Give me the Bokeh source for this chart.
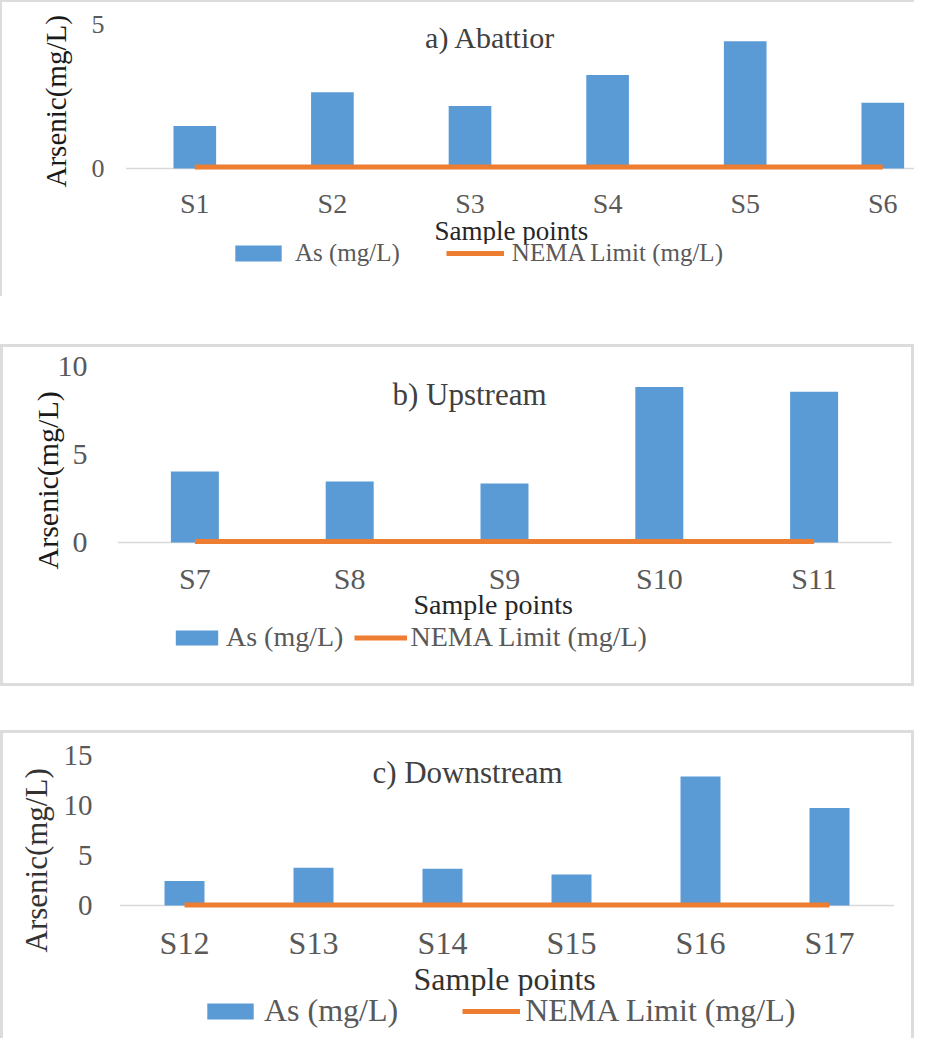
from bokeh.plotting import figure
from bokeh.models import Label, Legend, LegendItem, FixedTicker, Range1d, Spacer, Title
from bokeh.layouts import column
from bokeh.embed import file_html
from bokeh.resources import INLINE

# ---------------- data ----------------
cats_a = ["S1", "S2", "S3", "S4", "S5", "S6"]
as_a = [1.48, 2.65, 2.17, 3.25, 4.42, 2.28]
cats_b = ["S7", "S8", "S9", "S10", "S11"]
as_b = [4.03, 3.46, 3.35, 8.84, 8.56]
cats_c = ["S12", "S13", "S14", "S15", "S16", "S17"]
as_c = [2.46, 3.77, 3.67, 3.10, 12.9, 9.76]
nema_limit = 0.05
yticks_a = [0, 5]
yticks_b = [0, 5, 10]
yticks_c = [0, 5, 10, 15]
titles = ["a) Abattior", "b) Upstream", "c) Downstream"]
series_names = ["As (mg/L)", "NEMA Limit (mg/L)"]
x_title = "Sample points"
y_title = "Arsenic(mg/L)"

BLUE = "#5B9BD5"
ORANGE = "#ED7D31"
FONT = "Liberation Serif"
LEG_FONT = "'Liberation Serif', serif"
EDGE = "#dcdcdc"
W = 914
ML = 117          # common frame left (plots in a column share frame edges)
BAR_W = 0.31
PAD = 3           # px of frame kept below the zero line so the limit line is not clipped


def main_fig(cats, vals, yticks, title, cfg):
    n = len(cats)
    xs = [i + 0.5 for i in range(n)]
    ymax = yticks[-1]
    fh = cfg["h"] - cfg["mt"] - cfg["mb"]
    ypad = ymax * PAD / (fh - PAD)
    p = figure(width=W, height=cfg["h"],
               x_range=Range1d(*cfg["xr"]), y_range=Range1d(-ypad, ymax),
               min_border_left=ML, min_border_right=0,
               min_border_top=cfg["mt"], min_border_bottom=cfg["mb"],
               output_backend="svg", toolbar_location=None,
               styles={"background-color": "white", "box-shadow": cfg["shadow"]})
    p.outline_line_color = None
    p.grid.visible = False
    p.background_fill_color = None
    p.border_fill_color = None

    # category axis line at zero, spanning the categories
    p.segment(x0=[0], x1=[n], y0=[0], y1=[0], line_color="#d9d9d9", line_width=1.5)
    p.vbar(x=xs, top=vals, width=BAR_W, fill_color=BLUE, line_color=None)
    p.line(x=xs, y=[nema_limit] * n, line_width=5, line_color=ORANGE)

    xa = p.xaxis[0]
    xa.ticker = FixedTicker(ticks=xs)
    xa.major_label_overrides = {x: c for x, c in zip(xs, cats)}
    xa.major_tick_line_color = None
    xa.minor_tick_line_color = None
    xa.major_tick_out = 0
    xa.major_tick_in = 0
    xa.axis_line_color = None
    xa.major_label_text_font = FONT
    xa.major_label_text_font_size = cfg["xt_fs"]
    xa.major_label_text_color = "#595959"
    xa.major_label_standoff = cfg["xt_so"] - PAD

    ya = p.yaxis[0]
    ya.ticker = FixedTicker(ticks=yticks)
    ya.axis_line_color = None
    ya.major_tick_line_color = None
    ya.minor_tick_line_color = None
    ya.major_tick_out = 0
    ya.major_tick_in = 0
    ya.major_label_text_font = FONT
    ya.major_label_text_font_size = cfg["yt_fs"]
    ya.major_label_text_color = "#595959"
    ya.major_label_standoff = cfg["yt_so"]

    p.add_layout(Title(text=y_title, align="left", vertical_align="bottom",
                       offset=cfg["yl_off"] + PAD, standoff=cfg["yl_so"],
                       text_font=FONT, text_font_style="normal",
                       text_font_size=cfg["yl_fs"], text_color=cfg["yl_col"]), "left")
    p.add_layout(Title(text=x_title, align="left", vertical_align="bottom",
                       offset=cfg["xl_off"], standoff=cfg["xl_so"],
                       text_font=FONT, text_font_style="normal",
                       text_font_size=cfg["xl_fs"], text_color=cfg["xl_col"]), "below")

    p.add_layout(Label(x=cfg["t_xy"][0], y=cfg["t_xy"][1] + PAD, x_units="screen", y_units="screen",
                       text=title, text_align="center", text_baseline="middle",
                       text_font=FONT, text_font_size=cfg["t_fs"], text_color="#404040"))
    return p


def legend_fig(cats, vals, cfg):
    n = len(cats)
    xs = [i + 0.5 for i in range(n)]
    q = figure(width=W, height=cfg["lh"], x_range=Range1d(*cfg["xr"]), y_range=Range1d(0, 1),
               min_border_left=ML, min_border_right=0, min_border_top=0, min_border_bottom=0,
               x_axis_location=None, y_axis_location=None,
               output_backend="svg", toolbar_location=None,
               styles={"background-color": "white", "box-shadow": cfg["lshadow"]})
    q.outline_line_color = None
    q.background_fill_color = None
    q.border_fill_color = None
    q.grid.visible = False
    # renderers that only feed the legend keys (hidden in this strip)
    r_bar = q.vbar(x=xs, top=vals, width=BAR_W, fill_color=BLUE, line_color=None, visible=False)
    r_line = q.line(x=xs, y=[nema_limit] * n, line_width=5, line_color=ORANGE, visible=False)
    legend = Legend(items=[LegendItem(label=series_names[0], renderers=[r_bar]),
                           LegendItem(label=series_names[1], renderers=[r_line])],
                    orientation="horizontal", location=cfg["leg_loc"],
                    glyph_width=cfg["gw"], glyph_height=cfg["gh"],
                    label_standoff=cfg["lso"], spacing=cfg["lsp"],
                    padding=0, margin=0, border_line_color=None,
                    background_fill_alpha=0, inactive_fill_alpha=0,
                    label_text_font=LEG_FONT, label_text_font_size=cfg["lg_fs"],
                    label_text_color="#595959")
    q.add_layout(legend)
    return q


cfg_a = dict(h=244, xr=(-8.5 / 137.6, -8.5 / 137.6 + 797 / 137.6), mt=24, mb=73,
             shadow=f"inset 2px 2px 0 0 {EDGE}", lshadow=f"inset 2px 0 0 0 {EDGE}", lh=52,
             xt_fs="28px", xt_so=19, xl_fs="27px", xl_col="#262626", xl_off=317, xl_so=-16,
             yt_fs="26px", yt_so=13, yl_fs="29px", yl_col="#1a1a1a", yl_off=-19, yl_so=34,
             leg_loc=(112, 29), gw=58, gh=20, lso=8, lsp=46, lg_fs="25px",
             t_xy=(373, 131), t_fs="30px")
cfg_b = dict(h=278, xr=(0, 797 / 154.8), mt=22, mb=77,
             shadow=f"inset 3px 3px 0 0 {EDGE}, inset -3px 0 0 0 {EDGE}",
             lshadow=f"inset 3px -3px 0 0 {EDGE}, inset -3px 0 0 0 {EDGE}", lh=64,
             xt_fs="30px", xt_so=19, xl_fs="28px", xl_col="#262626", xl_off=296, xl_so=-22,
             yt_fs="30px", yt_so=30, yl_fs="30px", yl_col="#1a1a1a", yl_off=-27, yl_so=-18,
             leg_loc=(53, 33), gw=53, gh=19, lso=3, lsp=11, lg_fs="28px",
             t_xy=(352, 148), t_fs="31px")
cfg_c = dict(h=266, xr=(-2.5 / 129, -2.5 / 129 + 797 / 129), mt=25, mb=88,
             shadow=f"inset 3px 3px 0 0 {EDGE}, inset -3px 0 0 0 {EDGE}",
             lshadow=f"inset 3px 0 0 0 {EDGE}, inset -3px 0 0 0 {EDGE}", lh=42,
             xt_fs="32px", xt_so=19, xl_fs="32px", xl_col="#333333", xl_off=296, xl_so=-10,
             yt_fs="29px", yt_so=25, yl_fs="31px", yl_col="#333333", yl_off=-47, yl_so=14,
             leg_loc=(84, 9), gw=58, gh=20, lso=5, lsp=64, lg_fs="32px",
             t_xy=(350, 133), t_fs="31px")

pa = main_fig(cats_a, as_a, yticks_a, titles[0], cfg_a)
pb = main_fig(cats_b, as_b, yticks_b, titles[1], cfg_b)
pc = main_fig(cats_c, as_c, yticks_c, titles[2], cfg_c)
la = legend_fig(cats_a, as_a, cfg_a)
lb = legend_fig(cats_b, as_b, cfg_b)
lc = legend_fig(cats_c, as_c, cfg_c)

layout = column(pa, la, Spacer(height=48), pb, lb, Spacer(height=44), pc, lc)
open("out.html", "w").write(file_html(layout, INLINE))
